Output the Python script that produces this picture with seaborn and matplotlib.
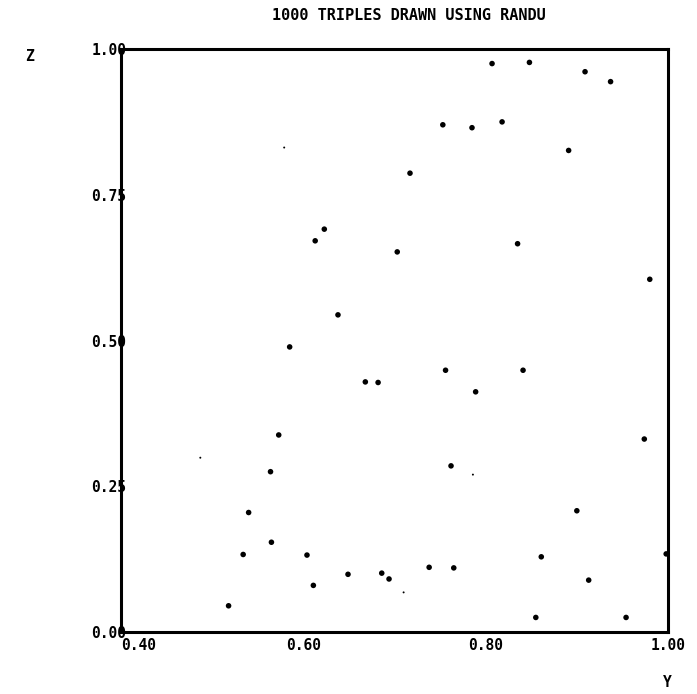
import matplotlib
matplotlib.use("Agg")
import matplotlib.pyplot as plt
import seaborn as sns
import pandas as pd

# Data (Y, Z pairs)
y_vals = [0.807, 0.848, 0.909, 0.937, 0.753, 0.785, 0.818, 0.891, 0.717, 0.623,
          0.613, 0.703, 0.835, 0.980, 0.638, 0.585, 0.668, 0.682, 0.756, 0.841,
          0.789, 0.573, 0.974, 0.564, 0.762, 0.540, 0.900, 0.565, 0.534, 0.604,
          0.861, 0.998, 0.649, 0.686, 0.694, 0.738, 0.765, 0.913, 0.611, 0.518,
          0.855, 0.954]
z_vals = [0.975, 0.977, 0.961, 0.944, 0.870, 0.865, 0.875, 0.826, 0.787, 0.691,
          0.671, 0.652, 0.666, 0.605, 0.544, 0.489, 0.429, 0.428, 0.449, 0.449,
          0.412, 0.338, 0.331, 0.275, 0.285, 0.205, 0.208, 0.154, 0.133, 0.132,
          0.129, 0.134, 0.099, 0.101, 0.091, 0.111, 0.110, 0.089, 0.080, 0.045,
          0.025, 0.025]
# faint tiny dots
y_faint = [0.579, 0.487, 0.786, 0.710]
z_faint = [0.831, 0.299, 0.270, 0.068]

x_ticks = [0.40, 0.60, 0.80, 1.00]
x_labels = ["0.40", "0.60", "0.80", "1.00"]
y_ticks = [0.00, 0.25, 0.50, 0.75, 1.00]
y_labels = ["0.00", "0.25", "0.50", "0.75", "1.00"]
title = "1000 TRIPLES DRAWN USING RANDU"

sns.set_style("white")
plt.rcParams['font.family'] = ['DejaVu Sans Mono', 'DejaVu Sans']
plt.rcParams['text.color'] = 'black'
plt.rcParams['xtick.color'] = 'black'
plt.rcParams['ytick.color'] = 'black'

fig = plt.figure(figsize=(6.97, 6.94), dpi=100)
ax = fig.add_axes([0.1736, 0.0893, 0.7848, 0.8401])

df = pd.DataFrame({"Y": y_vals, "Z": z_vals})
dff = pd.DataFrame({"Y": y_faint, "Z": z_faint})
sns.scatterplot(data=df, x="Y", y="Z", ax=ax, color="black", s=16,
                linewidth=0, edgecolor="none", clip_on=False)
sns.scatterplot(data=dff, x="Y", y="Z", ax=ax, color="black", s=2,
                linewidth=0, edgecolor="none", clip_on=False)

ax.set_xlim(0.40, 1.00)
ax.set_ylim(0.00, 1.00)
ax.set_xticks(x_ticks)
ax.set_xticklabels(x_labels, fontweight="bold", fontsize=10.5)
ax.set_yticks(y_ticks)
ax.set_yticklabels(y_labels, fontweight="bold", fontsize=10.5)
ax.get_xticklabels()[0].set_horizontalalignment("left")
ax.tick_params(axis="both", length=0)
ax.tick_params(axis="y", pad=-4)
ax.tick_params(axis="x", pad=4)
ax.set_xlabel("")
ax.set_ylabel("")

for sp in ax.spines.values():
    sp.set_visible(True)
    sp.set_linewidth(2.2)
    sp.set_color("black")

fig.text(0.586, 0.977, title, ha="center", va="center", fontsize=11,
         fontweight="bold", color="black")
fig.text(0.043, 0.918, "Z", ha="center", va="center", fontsize=10.5,
         fontweight="bold", color="black")
fig.text(0.958, 0.017, "Y", ha="center", va="center", fontsize=10.5,
         fontweight="bold", color="black")

fig.savefig("out.png", dpi=100, facecolor="white")
